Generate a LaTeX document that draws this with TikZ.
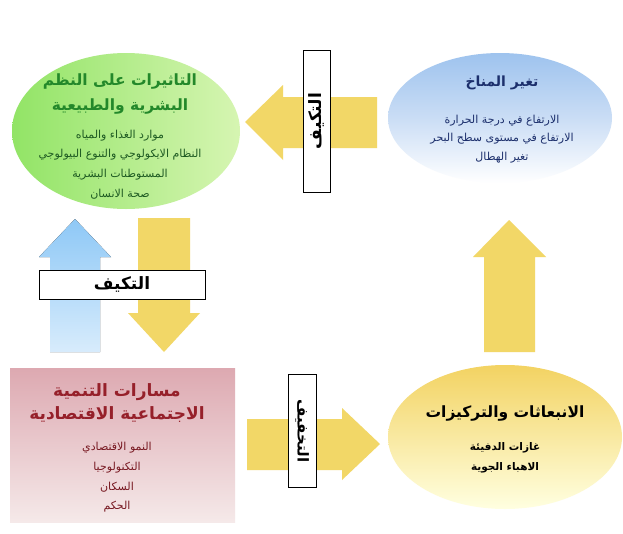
\documentclass[tikz,border=0pt]{standalone}
\usepackage{fontspec}
\newfontfamily\arabicfont[Script=Arabic]{DejaVu Sans}
\TeXXeTstate=1
\usetikzlibrary{shapes.geometric}
\newcommand{\ar}[1]{\beginR #1\endR}
\definecolor{arrowyellow}{HTML}{F2D767}
\definecolor{arrowblue}{HTML}{8EC8F6}
\definecolor{greenleft}{HTML}{92E466}
\definecolor{greenright}{HTML}{D6F5B2}
\definecolor{bluetop}{HTML}{9EC3EE}
\definecolor{bluemid}{HTML}{CADDF5}
\definecolor{redtop}{HTML}{DDA9B1}
\definecolor{redbottom}{HTML}{F5E9E9}
\definecolor{greentext}{HTML}{23882A}
\definecolor{greendark}{HTML}{1E5A22}
\definecolor{bluetext}{HTML}{1C2F6C}
\definecolor{redtext}{HTML}{96202A}
\begin{document}
\begin{tikzpicture}[x=1pt,y=-1pt,
    blob/.style={ellipse,inner sep=0pt},
    title/.style={font=\arabicfont\bfseries\fontsize{15.5}{25}\selectfont,align=center},
    items/.style={font=\arabicfont\fontsize{11}{19.7}\selectfont,align=center},
    tag/.style={draw=black,fill=white,line width=1pt,inner sep=0pt,
        font=\arabicfont\bfseries\fontsize{17}{17}\selectfont}]
    \useasboundingbox[fill=white](0,0)rectangle(623,533);
    % the four boxes
    \node[blob,left color=greenleft,right color=greenright,
        minimum width=228pt,minimum height=156pt](imp) at (126,131){};
    \node[blob,top color=bluetop,bottom color=white,middle color=bluemid,
        minimum width=224pt,minimum height=130pt](clim) at (500,118){};
    \node[blob,top color=arrowyellow!95!orange,bottom color=yellow!12!white,
        minimum width=234pt,minimum height=144pt](emi) at (505,437){};
    \node[rectangle,inner sep=0pt,top color=redtop,bottom color=redbottom,
        minimum width=225pt,minimum height=154pt](dev) at (122.5,445){};
    % texts
    \node[title,text=greentext](impT) at (120,94.5){\ar{التاثيرات على النظم}\\\ar{البشرية والطبيعية}};
    \node[items,text=greendark](impL) at (120,164.5){\ar{موارد الغذاء والمياه}\\
        \ar{النظام الايكولوجي والتنوع البيولوجي}\\\ar{المستوطنات البشرية}\\\ar{صحة الانسان}};
    \node[title,text=bluetext,font=\arabicfont\bfseries\fontsize{14}{24}\selectfont](climT) at (502,83){\ar{تغير المناخ}};
    \node[items,text=bluetext,font=\arabicfont\fontsize{11}{18.5}\selectfont](climL) at (502,139)
        {\ar{الارتفاع في درجة الحرارة}\\\ar{الارتفاع في مستوى سطح البحر}\\\ar{تغير الهطال}};
    \node[title,text=redtext,font=\arabicfont\bfseries\fontsize{17}{23}\selectfont](devT) at (117,403.5)
        {\ar{مسارات التنمية}\\\ar{الاجتماعية الاقتصادية}};
    \node[items,text=redtext!80!black](devL) at (117,477.5){\ar{النمو الاقتصادي}\\\ar{التكنولوجيا}\\
        \ar{السكان}\\\ar{الحكم}};
    \node[title](emiT) at (505,413){\ar{الانبعاثات والتركيزات}};
    \node[items,font=\arabicfont\bfseries\fontsize{10.5}{20}\selectfont](emiL) at (505,458)
        {\ar{غازات الدفيئة}\\\ar{الاهباء الجوية}};
    % block arrows
    \fill[arrowyellow](245,122)--(283,85)--(283,97)--(377,97)--(377,148)--(283,148)--(283,160)--cycle;
    \fill[arrowyellow](247,419)--(342,419)--(342,408)--(380,444)--(342,480)--(342,470)--(247,470)--cycle;
    \fill[top color=arrowblue,bottom color=arrowblue!35!white](75,219)--(111,257)--(100,257)--(100,352)
        --(50,352)--(50,257)--(39,257)--cycle;
    \fill[arrowyellow](138,218)--(190,218)--(190,313)--(200,313)--(164,352)--(128,313)--(138,313)--cycle;
    \fill[arrowyellow](509,220)--(546,257)--(535,257)--(535,352)--(484,352)--(484,257)--(473,257)--cycle;
    % labels
    \node[tag,minimum width=142pt,minimum height=27pt,rotate=90](adT) at (316.5,121){\ar{التكيف}};
    \node[tag,minimum width=166pt,minimum height=29pt](adL) at (122,284.5){\ar{التكيف}};
    \node[tag,minimum width=113pt,minimum height=28pt,rotate=-90,
        font=\arabicfont\bfseries\fontsize{15}{15}\selectfont](mit) at (302,431){\ar{التخفيف}};
\end{tikzpicture}
\end{document}
